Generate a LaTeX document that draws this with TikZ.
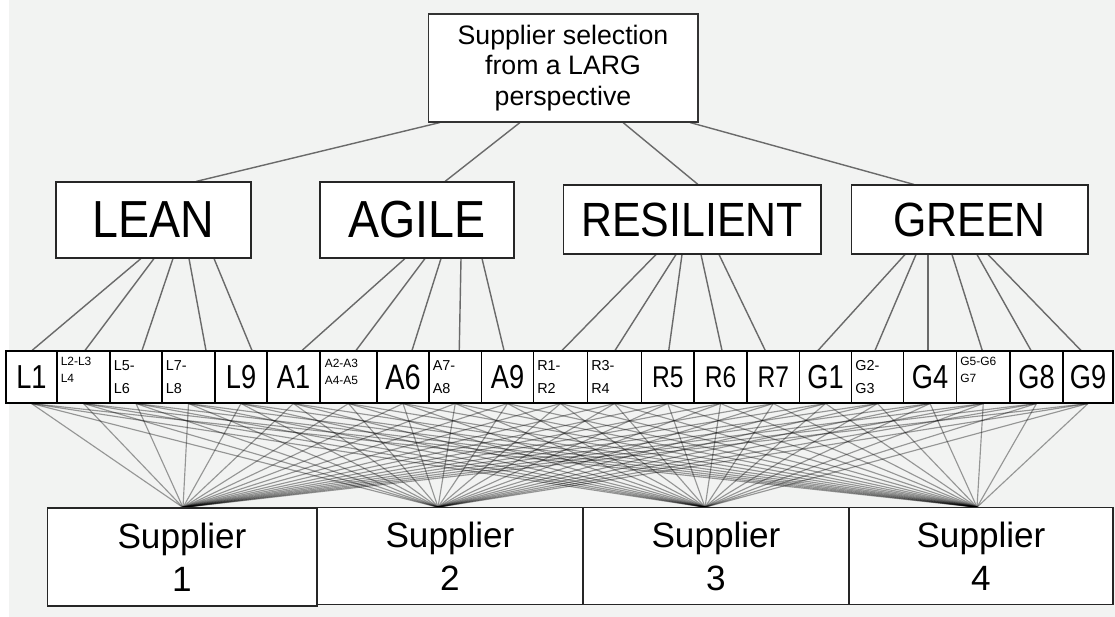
\documentclass[tikz,border=0pt]{standalone}
\usepackage{fontspec}
\setmainfont{Liberation Sans}
\usetikzlibrary{calc}
\pgfdeclarelayer{back}
\pgfdeclarelayer{lines}
\pgfsetlayers{back,lines,main}
\definecolor{bg}{HTML}{F2F3F2}
\definecolor{linkgray}{HTML}{6A6A6A}
\newcommand{\tallcat}[1]{\scalebox{1}[1.12]{#1}}
\newcommand{\tallcrit}[1]{\scalebox{1}[1.22]{#1}}
\tikzset{
  box/.style={draw=black, fill=white, line width=0.6pt, inner sep=0pt},
  link/.style={draw=linkgray, line width=0.8pt},
  web/.style={draw=black, draw opacity=0.38, line width=0.65pt},
  crit/.style={box, minimum height=1.04cm},
  catbox/.style={box, draw=black!85},
  bigcrit/.style={font=\fontsize{15.5}{17}\selectfont, inner sep=0pt},
  midcrit/.style={font=\fontsize{8.2}{13.5}\selectfont, align=left, anchor=west, inner sep=0pt},
  tinycrit/.style={font=\fontsize{6.8}{10}\selectfont, align=left, anchor=north west, inner sep=0pt},
  supbox/.style={box, draw=black!85, minimum height=1.93cm, align=center,
                 font=\fontsize{20}{24.5}\selectfont},
}
\begin{document}
\begin{tikzpicture}[x=0.02cm, y=-0.02cm]
\useasboundingbox (0,0) rectangle (1115,617);
\begin{pgfonlayer}{back}
  \fill[bg] (0,0) rectangle (1115,617);
  \fill[white] (0,0) rectangle (9,617);
\end{pgfonlayer}

% goal
\node[box, draw=black!80, minimum width=5.4cm, minimum height=2.16cm, align=center,
      font=\fontsize{15.2}{17.3}\selectfont] (top) at (563,68)
      {Supplier selection\\from a LARG\\perspective};

% the four LARG paradigms
\node[catbox, minimum width=3.9cm, minimum height=1.52cm,
      font=\fontsize{26.5}{30}\selectfont] (lean) at (153.5,220) {\tallcat{LEAN}};
\node[catbox, minimum width=3.88cm, minimum height=1.52cm,
      font=\fontsize{26.5}{30}\selectfont] (agile) at (417,220) {\tallcat{AGILE}};
\node[catbox, minimum width=5.16cm, minimum height=1.38cm,
      font=\fontsize{24.4}{28}\selectfont] (resil) at (692,219.5) {\tallcat{RESILIENT}};
\node[catbox, minimum width=4.74cm, minimum height=1.38cm,
      font=\fontsize{24.4}{28}\selectfont] (green) at (969.5,219.5) {\tallcat{GREEN}};

% criteria row
\foreach \i/\xa/\xb in {1/6/57, 2/57/110, 3/110/162, 4/162/215, 5/215/267,
    6/267/320, 7/320/377, 8/377/429, 9/429/481.5, 10/481.5/533.5,
    11/533.5/587.5, 12/587.5/641.5, 13/641.5/694, 14/694/747, 15/747/799.5,
    16/799.5/851.5, 17/851.5/903.5, 18/903.5/956.5, 19/956.5/1010,
    20/1010/1063, 21/1063/1113}
  \node[crit, minimum width={(\xb-\xa)*0.02cm}] (c\i) at ({(\xa+\xb)/2},377) {};

\node[bigcrit] at (c1) {\tallcrit{L1}};
\node[tinycrit] at ($(c2.north west)+(4,6)$) {L2-L3\\L4};
\node[midcrit] at ($(c3.west)+(4,0)$) {L5-\\L6};
\node[midcrit] at ($(c4.west)+(4,0)$) {L7-\\L8};
\node[bigcrit] at (c5) {\tallcrit{L9}};
\node[bigcrit] at (c6) {\tallcrit{A1}};
\node[tinycrit] at ($(c7.north west)+(5,8)$) {A2-A3\\A4-A5};
\node[bigcrit, font=\fontsize{16.5}{18}\selectfont] at (c8) {\tallcrit{A6}};
\node[midcrit] at ($(c9.west)+(4,0)$) {A7-\\A8};
\node[bigcrit] at (c10) {\tallcrit{A9}};
\node[midcrit] at ($(c11.west)+(4,0)$) {R1-\\R2};
\node[midcrit] at ($(c12.west)+(4,0)$) {R3-\\R4};
\node[bigcrit, font=\fontsize{14}{16}\selectfont] at (c13) {\tallcrit{R5}};
\node[bigcrit, font=\fontsize{14}{16}\selectfont] at (c14) {\tallcrit{R6}};
\node[bigcrit, font=\fontsize{14}{16}\selectfont] at (c15) {\tallcrit{R7}};
\node[bigcrit] at (c16) {\tallcrit{G1}};
\node[midcrit] at ($(c17.west)+(4,0)$) {G2-\\G3};
\node[bigcrit] at (c18) {\tallcrit{G4}};
\node[tinycrit] at ($(c19.north west)+(4,6)$) {G5-G6\\G7};
\node[bigcrit] at (c20) {\tallcrit{G8}};
\node[bigcrit] at (c21) {\tallcrit{G9}};

% alternatives
\node[supbox, minimum width=5.4cm, minimum height=1.96cm] (s1) at (182,557) {Supplier\\1};
\node[supbox, minimum width=5.32cm] (s2) at (450,556) {Supplier\\2};
\node[supbox, minimum width=5.32cm] (s3) at (716,556) {Supplier\\3};
\node[supbox, minimum width=5.28cm] (s4) at (981,556) {Supplier\\4};

\begin{pgfonlayer}{lines}
  % goal to paradigms
  \draw[link] ($(top.south)+(-123,0)$) -- ($(lean.north)+(42.5,0)$);
  \draw[link] ($(top.south)+(-43,0)$)  -- ($(agile.north)+(28,0)$);
  \draw[link] ($(top.south)+(60,0)$)   -- ($(resil.north)+(6,0)$);
  \draw[link] ($(top.south)+(127,0)$)  -- ($(green.north)+(-55.5,0)$);

  % paradigms to criteria
  \foreach \c/\o/\e in {1/-12.5/0.5, 2/0.5/1.5, 3/19.5/6, 4/35.5/17.5, 5/60.5/11}
    \draw[link] ($(lean.south)+(\o,0)$) -- ($(c\c.north)+(\e,0)$);
  \foreach \c/\o/\e in {6/-12/8.5, 7/8/7.5, 8/24/9, 9/44/4, 10/65/-3.5}
    \draw[link] ($(agile.south)+(\o,0)$) -- ($(c\c.north)+(\e,0)$);
  \foreach \c/\o/\e in {11/-36/1.5, 12/-16/0.5, 13/-10/1, 14/9/1.5, 15/27/-8}
    \draw[link] ($(resil.south)+(\o,0)$) -- ($(c\c.north)+(\e,0)$);
  \foreach \c/\o/\e in {16/-64.5/-7.5, 17/-53.5/-2.5, 18/-41.5/-2, 19/-17.5/-1, 20/7.5/-5.5, 21/18.5/-7}
    \draw[link] ($(green.south)+(\o,0)$) -- ($(c\c.north)+(\e,0)$);

  % criteria to every supplier
  \foreach \s/\o in {1/1, 2/-12, 3/-11, 4/-4}
    \foreach \c in {1,...,21}
      \draw[web] (c\c.south) -- ($(s\s.north)+(\o,0)$);
\end{pgfonlayer}
\end{tikzpicture}
\end{document}
